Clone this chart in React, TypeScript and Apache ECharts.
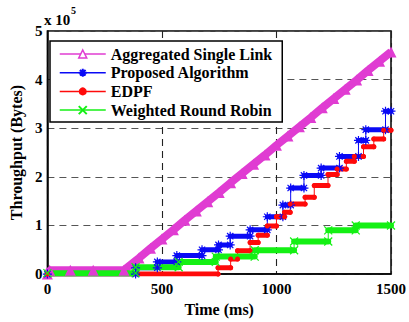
import React, { useEffect, useRef } from "react";
import * as echarts from "echarts";

// Values in units of 10^5 bytes, time in ms
const aggregatedSingleLink: [number, number][] = [
  [0, 0], [10, 0.08], [100, 0.08], [200, 0.08], [334, 0.08], [400, 0.33], [450, 0.53],
  [500, 0.72], [550, 0.91], [600, 1.11], [650, 1.3], [700, 1.49], [750, 1.68], [800, 1.88],
  [850, 2.07], [900, 2.26], [950, 2.45], [1000, 2.65], [1050, 2.84], [1100, 3.03], [1150, 3.22],
  [1200, 3.42], [1250, 3.61], [1300, 3.8], [1350, 3.99], [1400, 4.19], [1450, 4.38], [1500, 4.57],
];
const proposedAlgorithm: [number, number][] = [
  [0, 0], [385, 0.13], [480, 0.25], [565, 0.38], [675, 0.5], [747, 0.6], [798, 0.78], [885, 0.91],
  [960, 1.18], [1028, 1.42], [1062, 1.77], [1120, 2.03], [1195, 2.18], [1275, 2.42], [1358, 2.75],
  [1390, 2.97], [1476, 3.35], [1500, 3.35],
];
const edpf: [number, number][] = [
  [0, 0], [745, 0.13], [800, 0.31], [830, 0.48], [885, 0.65], [920, 0.8], [960, 0.99], [1000, 1.18],
  [1035, 1.27], [1060, 1.44], [1125, 1.58], [1165, 1.82], [1225, 2.05], [1265, 2.16], [1305, 2.32],
  [1340, 2.42], [1380, 2.62], [1425, 2.78], [1468, 2.96], [1500, 2.96],
];
const weightedRoundRobin: [number, number][] = [
  [0, 0.02], [385, 0.14], [573, 0.25], [735, 0.36], [905, 0.49], [1077, 0.67], [1226, 0.9],
  [1346, 1.0], [1500, 1.0],
];
const xTicks = [0, 500, 1000, 1500];
const yTicks = [0, 1, 2, 3, 4, 5];

const FONT = "Liberation Serif, Times New Roman, serif";
const PINK = "#e03cd2";
const BLUE = "#0a0af5";
const RED = "#ff0a0a";
const GREEN = "#14f014";
const STAR = "path://M5 0L5 10M0 5L10 5M1.5 1.5L8.5 8.5M8.5 1.5L1.5 8.5";
const CROSS = "path://M0 0L10 10M10 0L0 10";

function plateaus(steps: [number, number][]) {
  const out: any[] = [];
  for (let i = 0; i < steps.length - 1; i++) {
    out.push([steps[i][0], steps[i][1]]);
    out.push([steps[i + 1][0], steps[i][1]]);
    out.push([steps[i + 1][0], "-"]);
  }
  return out;
}

function stepSeries(name: string, steps: [number, number][], color: string, symbol: string, symbolSize: number, bandWidth: number, stroke: boolean) {
  const itemStyle = stroke
    ? { color, borderColor: color, borderWidth: 1.2 }
    : { color };
  return [
    {
      name,
      type: "line",
      step: "end",
      data: steps,
      showSymbol: false,
      symbol,
      symbolSize,
      lineStyle: { color, width: 1 },
      itemStyle,
    },
    {
      name: name + "-band",
      type: "line",
      data: plateaus(steps),
      connectNulls: false,
      showSymbol: true,
      symbol,
      symbolSize,
      lineStyle: { color, width: bandWidth, cap: "round" },
      itemStyle,
    },
  ];
}

export default function App() {
  const ref = useRef<HTMLDivElement>(null);
  useEffect(() => {
    if (!ref.current) return;
    const chart = echarts.init(ref.current, null, { renderer: "svg" });
    const labelStyle = { fontFamily: FONT, fontWeight: "bold", fontSize: 15, color: "#000" };
    const legendText = { fontFamily: FONT, fontWeight: "bold", fontSize: 16, color: "#000" };
    chart.setOption({
      animation: false,
      backgroundColor: "#fff",
      textStyle: { fontFamily: FONT },
      grid: { left: 43, right: 15, top: 31, bottom: 45, show: true, borderColor: "#000", borderWidth: 1.5, backgroundColor: "transparent" },
      xAxis: {
        type: "value",
        min: xTicks[0],
        max: xTicks[xTicks.length - 1],
        interval: 500,
        axisLine: { show: true, lineStyle: { color: "#000", width: 1.5 } },
        axisTick: { show: false },
        axisLabel: { ...labelStyle, margin: 7, formatter: (v: number) => String(v) },
        splitLine: { show: true, lineStyle: { color: "#222", type: [7, 5], width: 1.1 } },
        name: "Time (ms)",
        nameLocation: "middle",
        nameGap: 23,
        nameTextStyle: { fontFamily: FONT, fontWeight: "bold", fontSize: 16, color: "#000" },
      },
      yAxis: {
        type: "value",
        min: yTicks[0],
        max: yTicks[yTicks.length - 1],
        interval: 1,
        axisLine: { show: true, lineStyle: { color: "#000", width: 1.5 } },
        axisTick: { show: false },
        axisLabel: { ...labelStyle, margin: 5, formatter: (v: number) => String(v) },
        splitLine: { show: true, lineStyle: { color: "#555", type: [7, 5], width: 1.1 } },
        name: "Throughput (Bytes)",
        nameLocation: "middle",
        nameGap: 18,
        nameTextStyle: { fontFamily: FONT, fontWeight: "bold", fontSize: 16, color: "#000" },
      },
      legend: {
        data: [
          { name: "Aggregated Single Link", itemStyle: { color: "#fff", borderColor: PINK, borderWidth: 1.5 }, lineStyle: { width: 1.5, color: PINK }, textStyle: legendText },
          { name: "Proposed Algorithm", lineStyle: { width: 1.5, color: BLUE }, textStyle: legendText },
          { name: "EDPF", lineStyle: { width: 1.5, color: RED }, textStyle: legendText },
          { name: "Weighted Round Robin", lineStyle: { width: 1.5, color: GREEN }, textStyle: legendText },
        ],
        orient: "vertical",
        left: 50,
        top: 41,
        itemWidth: 46,
        itemHeight: 10,
        itemGap: 2.7,
        padding: [5, 10, 4, 9],
        backgroundColor: "#fff",
        borderColor: "#000",
        borderWidth: 1.5,
        borderRadius: 0,
        textStyle: legendText,
      },
      graphic: [
        { type: "text", x: 44, y: 12, style: { text: "x 10", font: `bold 15px ${FONT}`, fill: "#000", verticalAlign: "top" } },
        { type: "text", x: 71, y: 5, style: { text: "5", font: `bold 10px ${FONT}`, fill: "#000", verticalAlign: "top" } },
      ],
      series: [
        {
          name: "Aggregated Single Link",
          type: "line",
          data: aggregatedSingleLink,
          symbol: "triangle",
          symbolSize: 11,
          showSymbol: true,
          lineStyle: { color: PINK, width: 8 },
          itemStyle: { color: PINK },
        },
        ...stepSeries("Proposed Algorithm", proposedAlgorithm, BLUE, STAR, 9, 5, true),
        ...stepSeries("EDPF", edpf, RED, "circle", 5, 5, false),
        ...stepSeries("Weighted Round Robin", weightedRoundRobin, GREEN, CROSS, 8, 6, true),
      ],
    });
    return () => chart.dispose();
  }, []);
  return <div ref={ref} style={{ width: 409, height: 322, position: "absolute", left: 0, top: 0 }} />;
}
